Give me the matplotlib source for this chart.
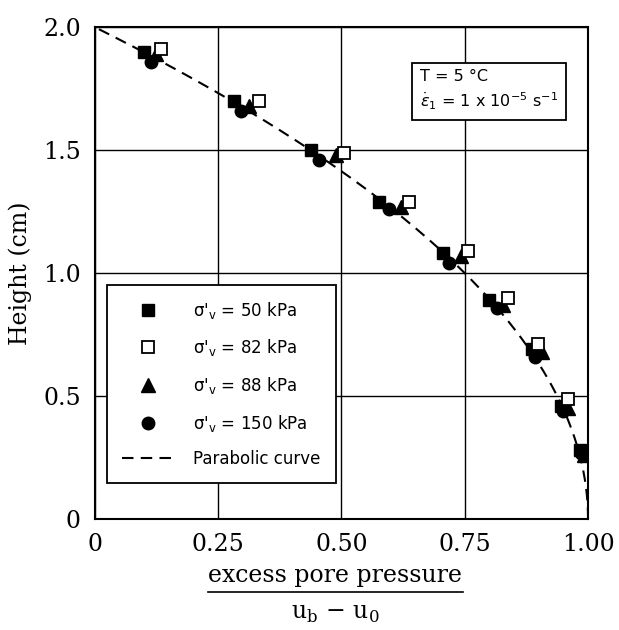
import numpy as np
import matplotlib
matplotlib.use("Agg")
import matplotlib.pyplot as plt
from matplotlib.lines import Line2D

# ---- data ----
x_sq50 = [0.100, 0.283, 0.439, 0.577, 0.705, 0.800, 0.887, 0.945, 0.983]
y_sq50 = [1.90, 1.70, 1.50, 1.29, 1.08, 0.89, 0.69, 0.46, 0.28]

x_open82 = [0.135, 0.333, 0.505, 0.637, 0.757, 0.837, 0.899, 0.959]
y_open82 = [1.91, 1.70, 1.49, 1.29, 1.09, 0.90, 0.71, 0.49]

x_tri88 = [0.125, 0.313, 0.489, 0.621, 0.743, 0.827, 0.907, 0.959, 0.991]
y_tri88 = [1.89, 1.68, 1.48, 1.27, 1.07, 0.87, 0.68, 0.45, 0.26]

x_circ150 = [0.115, 0.297, 0.455, 0.597, 0.719, 0.815, 0.893, 0.949, 0.985]
y_circ150 = [1.86, 1.66, 1.46, 1.26, 1.04, 0.86, 0.66, 0.44, 0.27]

legend_labels = ["σ'" + r"$_\mathregular{v}$ = 50 kPa", "σ'" + r"$_\mathregular{v}$ = 82 kPa",
                 "σ'" + r"$_\mathregular{v}$ = 88 kPa", "σ'" + r"$_\mathregular{v}$ = 150 kPa",
                 "Parabolic curve"]
x_ticks = [0, 0.25, 0.50, 0.75, 1.00]
x_ticklabels = ["0", "0.25", "0.50", "0.75", "1.00"]
y_ticks = [0, 0.5, 1.0, 1.5, 2.0]
y_ticklabels = ["0", "0.5", "1.0", "1.5", "2.0"]

# parabolic isochrone: x = 1 - (h/H)^2, H = sample height
H_sample = 2.0

plt.rcParams['mathtext.fontset'] = 'dejavusans'

fig = plt.figure(figsize=(6.19, 6.30), dpi=100)
ax = fig.add_axes([0.153, 0.176, 0.797, 0.781])

h = np.linspace(0, H_sample, 300)
ax.plot(1 - (h / H_sample) ** 2, h, color='black', lw=1.5, ls=(0, (5.5, 3.5)), zorder=2)

ms = 9
ax.plot(x_sq50, y_sq50, ls='none', marker='s', ms=ms, mfc='black', mec='black', zorder=3)
ax.plot(x_tri88, y_tri88, ls='none', marker='^', ms=ms + 1, mfc='black', mec='black', zorder=3)
ax.plot(x_circ150, y_circ150, ls='none', marker='o', ms=ms, mfc='black', mec='black', zorder=3)
ax.plot(x_open82, y_open82, ls='none', marker='s', ms=ms, mfc='white', mec='black', mew=1.3, zorder=4)

ax.set_xlim(0, 1)
ax.set_ylim(0, 2)
ax.set_xticks(x_ticks)
ax.set_xticklabels(x_ticklabels)
ax.set_yticks(y_ticks)
ax.set_yticklabels(y_ticklabels)
ax.tick_params(length=0, pad=10, labelsize=17)
for lab in ax.get_xticklabels() + ax.get_yticklabels():
    lab.set_family('DejaVu Serif')
ax.grid(True, color='black', lw=1.0)
ax.set_axisbelow(True)
for s in ax.spines.values():
    s.set_linewidth(1.5)

ax.set_ylabel("Height (cm)", family='DejaVu Serif', fontsize=17, labelpad=8)

# fraction-style x label
cx = 0.541
fig.text(cx, 0.087, "excess pore pressure", ha='center', va='center',
         family='DejaVu Serif', fontsize=17)
fig.add_artist(Line2D([0.336, 0.748], [0.060, 0.060], color='black', lw=1.2,
                      transform=fig.transFigure))
fig.text(cx, 0.026, "u" + r"$_\mathregular{b}$" + " \u2212 u" + r"$_\mathregular{0}$",
         ha='center', va='center', family='DejaVu Serif', fontsize=17)

handles = [
    Line2D([], [], ls='none', marker='s', ms=ms, mfc='black', mec='black'),
    Line2D([], [], ls='none', marker='s', ms=ms, mfc='white', mec='black', mew=1.3),
    Line2D([], [], ls='none', marker='^', ms=ms + 1, mfc='black', mec='black'),
    Line2D([], [], ls='none', marker='o', ms=ms, mfc='black', mec='black'),
    Line2D([], [], color='black', lw=1.5, ls=(0, (5.5, 3.5))),
]
leg = ax.legend(handles, legend_labels, loc='lower left', bbox_to_anchor=(0.024, 0.073),
                borderaxespad=0, fancybox=False, framealpha=1, edgecolor='black',
                prop={'family': 'DejaVu Sans', 'size': 12}, labelspacing=1.0,
                handlelength=3.2, handletextpad=1.1, borderpad=0.9)
leg.get_frame().set_linewidth(1.3)

ax.text(0.66, 0.915, "T = 5 \u00b0C\n" + r"$\dot{\epsilon}_\mathregular{1}$ = 1 x 10$^{-5}$ s$^{-1}$",
        transform=ax.transAxes, ha='left', va='top', fontsize=11.5, family='DejaVu Sans',
        linespacing=1.4,
        bbox=dict(boxstyle='square,pad=0.5', fc='white', ec='black', lw=1.3))

fig.savefig("out.png", dpi=100)
